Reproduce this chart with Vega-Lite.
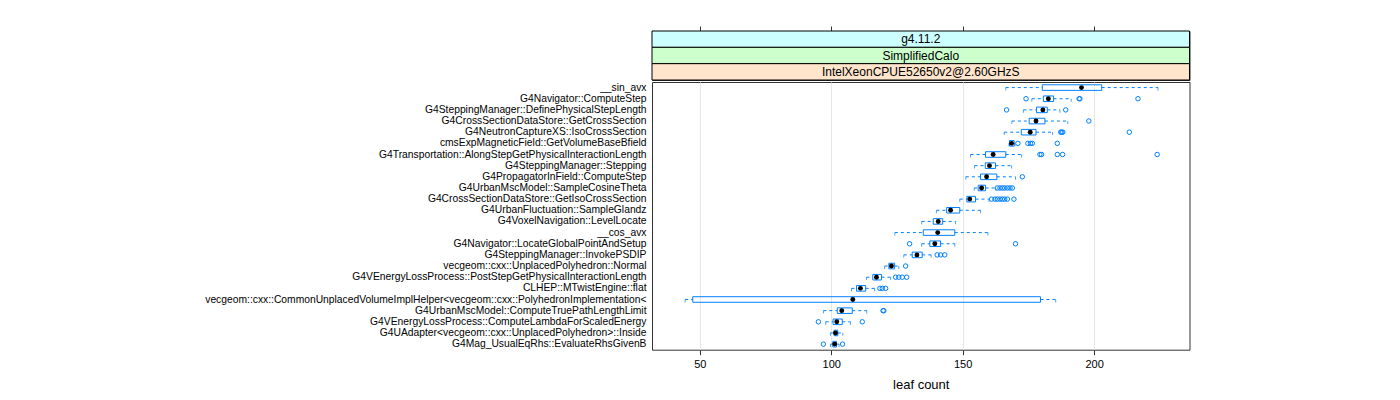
{
  "$schema": "https://vega.github.io/schema/vega-lite/v6.json",
  "padding": {"left": 5, "top": 25, "right": 5, "bottom": 5},
  "spacing": 0,
  "config": {
    "font": "Liberation Sans",
    "view": {"stroke": "#333", "strokeWidth": 1},
    "axisX": {"grid": true, "gridColor": "#e6e6e6", "domain": false, "tickColor": "#333", "tickSize": 5, "labelFontSize": 11, "labelColor": "#000", "labelPadding": 4, "titleFontSize": 13, "titleFontWeight": "normal", "titleColor": "#000", "titlePadding": 9},
    "axisY": {"ticks": false, "domain": false, "grid": false, "labelFontSize": 10.3, "labelColor": "#000", "labelLimit": 1000, "labelPadding": 6, "minExtent": 646.5, "maxExtent": 646.5}
  },
  "datasets": {
    "strips": [
      {"label": "g4.11.2"},
      {"label": "SimplifiedCalo"},
      {"label": "IntelXeonCPUE52650v2@2.60GHzS"}
    ],
    "boxes": [
      {"fn": "__sin_avx", "lo": 166.4, "q1": 180.3, "med": 195.2, "q3": 202.9, "hi": 224.3},
      {"fn": "G4Navigator::ComputeStep", "lo": 176.3, "q1": 180.7, "med": 182.6, "q3": 184.6, "hi": 191.3},
      {"fn": "G4SteppingManager::DefinePhysicalStepLength", "lo": 173.1, "q1": 178.1, "med": 180.5, "q3": 182.2, "hi": 187.0},
      {"fn": "G4CrossSectionDataStore::GetCrossSection", "lo": 168.7, "q1": 175.3, "med": 177.9, "q3": 181.3, "hi": 190.0},
      {"fn": "G4NeutronCaptureXS::IsoCrossSection", "lo": 165.8, "q1": 172.3, "med": 175.7, "q3": 177.9, "hi": 184.2},
      {"fn": "cmsExpMagneticField::GetVolumeBaseBfield", "lo": 167.6, "q1": 167.8, "med": 168.6, "q3": 169.6, "hi": 169.9},
      {"fn": "G4Transportation::AlongStepGetPhysicalInteractionLength", "lo": 153.0, "q1": 158.7, "med": 161.6, "q3": 166.4, "hi": 172.4},
      {"fn": "G4SteppingManager::Stepping", "lo": 154.5, "q1": 158.6, "med": 160.2, "q3": 162.5, "hi": 168.6},
      {"fn": "G4PropagatorInField::ComputeStep", "lo": 151.2, "q1": 156.8, "med": 159.1, "q3": 163.0, "hi": 170.1},
      {"fn": "G4UrbanMscModel::SampleCosineTheta", "lo": 154.4, "q1": 155.9, "med": 157.2, "q3": 158.7, "hi": 162.6},
      {"fn": "G4CrossSectionDataStore::GetIsoCrossSection", "lo": 148.9, "q1": 151.6, "med": 152.7, "q3": 154.9, "hi": 160.0},
      {"fn": "G4UrbanFluctuation::SampleGlandz", "lo": 140.0, "q1": 143.9, "med": 145.4, "q3": 148.9, "hi": 156.8},
      {"fn": "G4VoxelNavigation::LevelLocate", "lo": 134.4, "q1": 138.8, "med": 140.7, "q3": 142.4, "hi": 147.3},
      {"fn": "__cos_avx", "lo": 124.2, "q1": 135.0, "med": 140.5, "q3": 147.0, "hi": 159.6},
      {"fn": "G4Navigator::LocateGlobalPointAndSetup", "lo": 134.4, "q1": 137.5, "med": 139.4, "q3": 141.6, "hi": 147.0},
      {"fn": "G4SteppingManager::InvokePSDIP", "lo": 127.6, "q1": 130.8, "med": 132.6, "q3": 134.6, "hi": 138.0},
      {"fn": "vecgeom::cxx::UnplacedPolyhedron::Normal", "lo": 120.3, "q1": 121.9, "med": 122.9, "q3": 124.1, "hi": 125.7},
      {"fn": "G4VEnergyLossProcess::PostStepGetPhysicalInteractionLength", "lo": 113.4, "q1": 115.8, "med": 117.2, "q3": 119.1, "hi": 122.6},
      {"fn": "CLHEP::MTwistEngine::flat", "lo": 107.7, "q1": 109.6, "med": 111.1, "q3": 113.1, "hi": 116.5},
      {"fn": "vecgeom::cxx::CommonUnplacedVolumeImplHelper<vecgeom::cxx::PolyhedronImplementation<", "lo": 44.4, "q1": 47.3, "med": 108.2, "q3": 179.6, "hi": 185.4},
      {"fn": "G4UrbanMscModel::ComputeTruePathLengthLimit", "lo": 97.0, "q1": 102.3, "med": 104.0, "q3": 108.0, "hi": 113.5},
      {"fn": "G4VEnergyLossProcess::ComputeLambdaForScaledEnergy", "lo": 97.9, "q1": 100.7, "med": 102.1, "q3": 104.2, "hi": 107.3},
      {"fn": "G4UAdapter<vecgeom::cxx::UnplacedPolyhedron>::Inside", "lo": 99.7, "q1": 101.1, "med": 101.6, "q3": 102.5, "hi": 104.4},
      {"fn": "G4Mag_UsualEqRhs::EvaluateRhsGivenB", "lo": 99.7, "q1": 100.6, "med": 101.3, "q3": 102.0, "hi": 103.0}
    ],
    "outliers": [
      {"fn": "G4Navigator::ComputeStep", "v": 174.1},
      {"fn": "G4Navigator::ComputeStep", "v": 194.3},
      {"fn": "G4Navigator::ComputeStep", "v": 194.6},
      {"fn": "G4Navigator::ComputeStep", "v": 216.7},
      {"fn": "G4SteppingManager::DefinePhysicalStepLength", "v": 166.7},
      {"fn": "G4SteppingManager::DefinePhysicalStepLength", "v": 189.2},
      {"fn": "G4CrossSectionDataStore::GetCrossSection", "v": 198.0},
      {"fn": "G4NeutronCaptureXS::IsoCrossSection", "v": 187.3},
      {"fn": "G4NeutronCaptureXS::IsoCrossSection", "v": 187.7},
      {"fn": "G4NeutronCaptureXS::IsoCrossSection", "v": 188.1},
      {"fn": "G4NeutronCaptureXS::IsoCrossSection", "v": 213.4},
      {"fn": "cmsExpMagneticField::GetVolumeBaseBfield", "v": 171.0},
      {"fn": "cmsExpMagneticField::GetVolumeBaseBfield", "v": 174.8},
      {"fn": "cmsExpMagneticField::GetVolumeBaseBfield", "v": 175.8},
      {"fn": "cmsExpMagneticField::GetVolumeBaseBfield", "v": 176.5},
      {"fn": "cmsExpMagneticField::GetVolumeBaseBfield", "v": 186.0},
      {"fn": "G4Transportation::AlongStepGetPhysicalInteractionLength", "v": 179.4},
      {"fn": "G4Transportation::AlongStepGetPhysicalInteractionLength", "v": 180.0},
      {"fn": "G4Transportation::AlongStepGetPhysicalInteractionLength", "v": 186.0},
      {"fn": "G4Transportation::AlongStepGetPhysicalInteractionLength", "v": 188.0},
      {"fn": "G4Transportation::AlongStepGetPhysicalInteractionLength", "v": 224.0},
      {"fn": "G4PropagatorInField::ComputeStep", "v": 172.7},
      {"fn": "G4UrbanMscModel::SampleCosineTheta", "v": 163.2},
      {"fn": "G4UrbanMscModel::SampleCosineTheta", "v": 164.2},
      {"fn": "G4UrbanMscModel::SampleCosineTheta", "v": 165.1},
      {"fn": "G4UrbanMscModel::SampleCosineTheta", "v": 166.0},
      {"fn": "G4UrbanMscModel::SampleCosineTheta", "v": 167.0},
      {"fn": "G4UrbanMscModel::SampleCosineTheta", "v": 168.0},
      {"fn": "G4UrbanMscModel::SampleCosineTheta", "v": 168.9},
      {"fn": "G4CrossSectionDataStore::GetIsoCrossSection", "v": 161.0},
      {"fn": "G4CrossSectionDataStore::GetIsoCrossSection", "v": 162.3},
      {"fn": "G4CrossSectionDataStore::GetIsoCrossSection", "v": 163.2},
      {"fn": "G4CrossSectionDataStore::GetIsoCrossSection", "v": 164.2},
      {"fn": "G4CrossSectionDataStore::GetIsoCrossSection", "v": 165.1},
      {"fn": "G4CrossSectionDataStore::GetIsoCrossSection", "v": 166.0},
      {"fn": "G4CrossSectionDataStore::GetIsoCrossSection", "v": 167.0},
      {"fn": "G4CrossSectionDataStore::GetIsoCrossSection", "v": 169.5},
      {"fn": "G4Navigator::LocateGlobalPointAndSetup", "v": 129.8},
      {"fn": "G4Navigator::LocateGlobalPointAndSetup", "v": 170.1},
      {"fn": "G4SteppingManager::InvokePSDIP", "v": 140.3},
      {"fn": "G4SteppingManager::InvokePSDIP", "v": 141.6},
      {"fn": "G4SteppingManager::InvokePSDIP", "v": 143.2},
      {"fn": "vecgeom::cxx::UnplacedPolyhedron::Normal", "v": 128.3},
      {"fn": "G4VEnergyLossProcess::PostStepGetPhysicalInteractionLength", "v": 124.5},
      {"fn": "G4VEnergyLossProcess::PostStepGetPhysicalInteractionLength", "v": 125.7},
      {"fn": "G4VEnergyLossProcess::PostStepGetPhysicalInteractionLength", "v": 127.0},
      {"fn": "G4VEnergyLossProcess::PostStepGetPhysicalInteractionLength", "v": 128.7},
      {"fn": "CLHEP::MTwistEngine::flat", "v": 118.5},
      {"fn": "CLHEP::MTwistEngine::flat", "v": 119.4},
      {"fn": "CLHEP::MTwistEngine::flat", "v": 120.7},
      {"fn": "G4UrbanMscModel::ComputeTruePathLengthLimit", "v": 119.7},
      {"fn": "G4UrbanMscModel::ComputeTruePathLengthLimit", "v": 120.0},
      {"fn": "G4VEnergyLossProcess::ComputeLambdaForScaledEnergy", "v": 95.1},
      {"fn": "G4VEnergyLossProcess::ComputeLambdaForScaledEnergy", "v": 111.8},
      {"fn": "G4Mag_UsualEqRhs::EvaluateRhsGivenB", "v": 97.0},
      {"fn": "G4Mag_UsualEqRhs::EvaluateRhsGivenB", "v": 104.3}
    ]
  },
  "vconcat": [
    {
      "width": 537.5,
      "height": 49,
      "data": {"name": "strips"},
      "encoding": {
        "y": {"field": "label", "type": "nominal", "scale": {"domain": ["g4.11.2", "SimplifiedCalo", "IntelXeonCPUE52650v2@2.60GHzS"], "paddingInner": 0, "paddingOuter": 0}, "axis": null}
      },
      "layer": [
        {
          "mark": {"type": "rect", "stroke": "#000", "strokeWidth": 1},
          "encoding": {
            "color": {"field": "label", "type": "nominal", "scale": {"domain": ["g4.11.2", "SimplifiedCalo", "IntelXeonCPUE52650v2@2.60GHzS"], "range": ["#ccffff", "#ccffcc", "#ffe5cc"]}, "legend": null}
          }
        },
        {
          "mark": {"type": "text", "fontSize": 12, "color": "#000"},
          "encoding": {
            "x": {"datum": 134.05, "type": "quantitative", "scale": {"domain": [31.8, 236.3], "nice": false, "zero": false}, "axis": {"orient": "top", "values": [50, 100, 150, 200], "labels": false, "grid": false, "domain": false, "ticks": true, "tickSize": 5, "title": null}},
            "text": {"field": "label", "type": "nominal"}
          }
        }
      ]
    },
    {
      "width": 537.5,
      "height": 267.7,
      "encoding": {
        "y": {"field": "fn", "type": "nominal", "title": null, "scale": {"paddingInner": 0, "paddingOuter": 0, "domain": [
          "__sin_avx",
          "G4Navigator::ComputeStep",
          "G4SteppingManager::DefinePhysicalStepLength",
          "G4CrossSectionDataStore::GetCrossSection",
          "G4NeutronCaptureXS::IsoCrossSection",
          "cmsExpMagneticField::GetVolumeBaseBfield",
          "G4Transportation::AlongStepGetPhysicalInteractionLength",
          "G4SteppingManager::Stepping",
          "G4PropagatorInField::ComputeStep",
          "G4UrbanMscModel::SampleCosineTheta",
          "G4CrossSectionDataStore::GetIsoCrossSection",
          "G4UrbanFluctuation::SampleGlandz",
          "G4VoxelNavigation::LevelLocate",
          "__cos_avx",
          "G4Navigator::LocateGlobalPointAndSetup",
          "G4SteppingManager::InvokePSDIP",
          "vecgeom::cxx::UnplacedPolyhedron::Normal",
          "G4VEnergyLossProcess::PostStepGetPhysicalInteractionLength",
          "CLHEP::MTwistEngine::flat",
          "vecgeom::cxx::CommonUnplacedVolumeImplHelper<vecgeom::cxx::PolyhedronImplementation<",
          "G4UrbanMscModel::ComputeTruePathLengthLimit",
          "G4VEnergyLossProcess::ComputeLambdaForScaledEnergy",
          "G4UAdapter<vecgeom::cxx::UnplacedPolyhedron>::Inside",
          "G4Mag_UsualEqRhs::EvaluateRhsGivenB"
        ]}}
      },
      "layer": [
        {
          "data": {"name": "boxes"},
          "mark": {"type": "rule", "color": "#0080ff", "strokeWidth": 1, "strokeDash": [3, 3]},
          "encoding": {
            "x": {"field": "lo", "type": "quantitative", "title": "leaf count", "scale": {"domain": [31.8, 236.3], "nice": false, "zero": false}, "axis": {"values": [50, 100, 150, 200]}},
            "x2": {"field": "q1"}
          }
        },
        {
          "data": {"name": "boxes"},
          "mark": {"type": "rule", "color": "#0080ff", "strokeWidth": 1, "strokeDash": [3, 3]},
          "encoding": {
            "x": {"field": "q3", "type": "quantitative", "title": "leaf count", "axis": {"values": [50, 100, 150, 200]}},
            "x2": {"field": "hi"}
          }
        },
        {
          "data": {"name": "boxes"},
          "mark": {"type": "tick", "color": "#0080ff", "size": 3, "thickness": 1, "yOffset": 1.4},
          "encoding": {
            "x": {"field": "lo", "type": "quantitative", "title": "leaf count", "axis": {"values": [50, 100, 150, 200]}}
          }
        },
        {
          "data": {"name": "boxes"},
          "mark": {"type": "tick", "color": "#0080ff", "size": 3, "thickness": 1, "yOffset": 1.4},
          "encoding": {
            "x": {"field": "hi", "type": "quantitative", "title": "leaf count", "axis": {"values": [50, 100, 150, 200]}}
          }
        },
        {
          "data": {"name": "boxes"},
          "mark": {"type": "bar", "filled": false, "color": "#0080ff", "strokeWidth": 1, "height": {"band": 0.5}},
          "encoding": {
            "x": {"field": "q1", "type": "quantitative", "title": "leaf count", "axis": {"values": [50, 100, 150, 200]}},
            "x2": {"field": "q3"}
          }
        },
        {
          "data": {"name": "outliers"},
          "mark": {"type": "point", "shape": "circle", "filled": false, "color": "#0080ff", "size": 20, "strokeWidth": 1, "opacity": 1},
          "encoding": {
            "x": {"field": "v", "type": "quantitative", "title": "leaf count", "axis": {"values": [50, 100, 150, 200]}}
          }
        },
        {
          "data": {"name": "boxes"},
          "mark": {"type": "point", "shape": "circle", "filled": true, "color": "#000", "size": 24, "opacity": 1},
          "encoding": {
            "x": {"field": "med", "type": "quantitative", "title": "leaf count", "axis": {"values": [50, 100, 150, 200]}}
          }
        }
      ]
    }
  ]
}
